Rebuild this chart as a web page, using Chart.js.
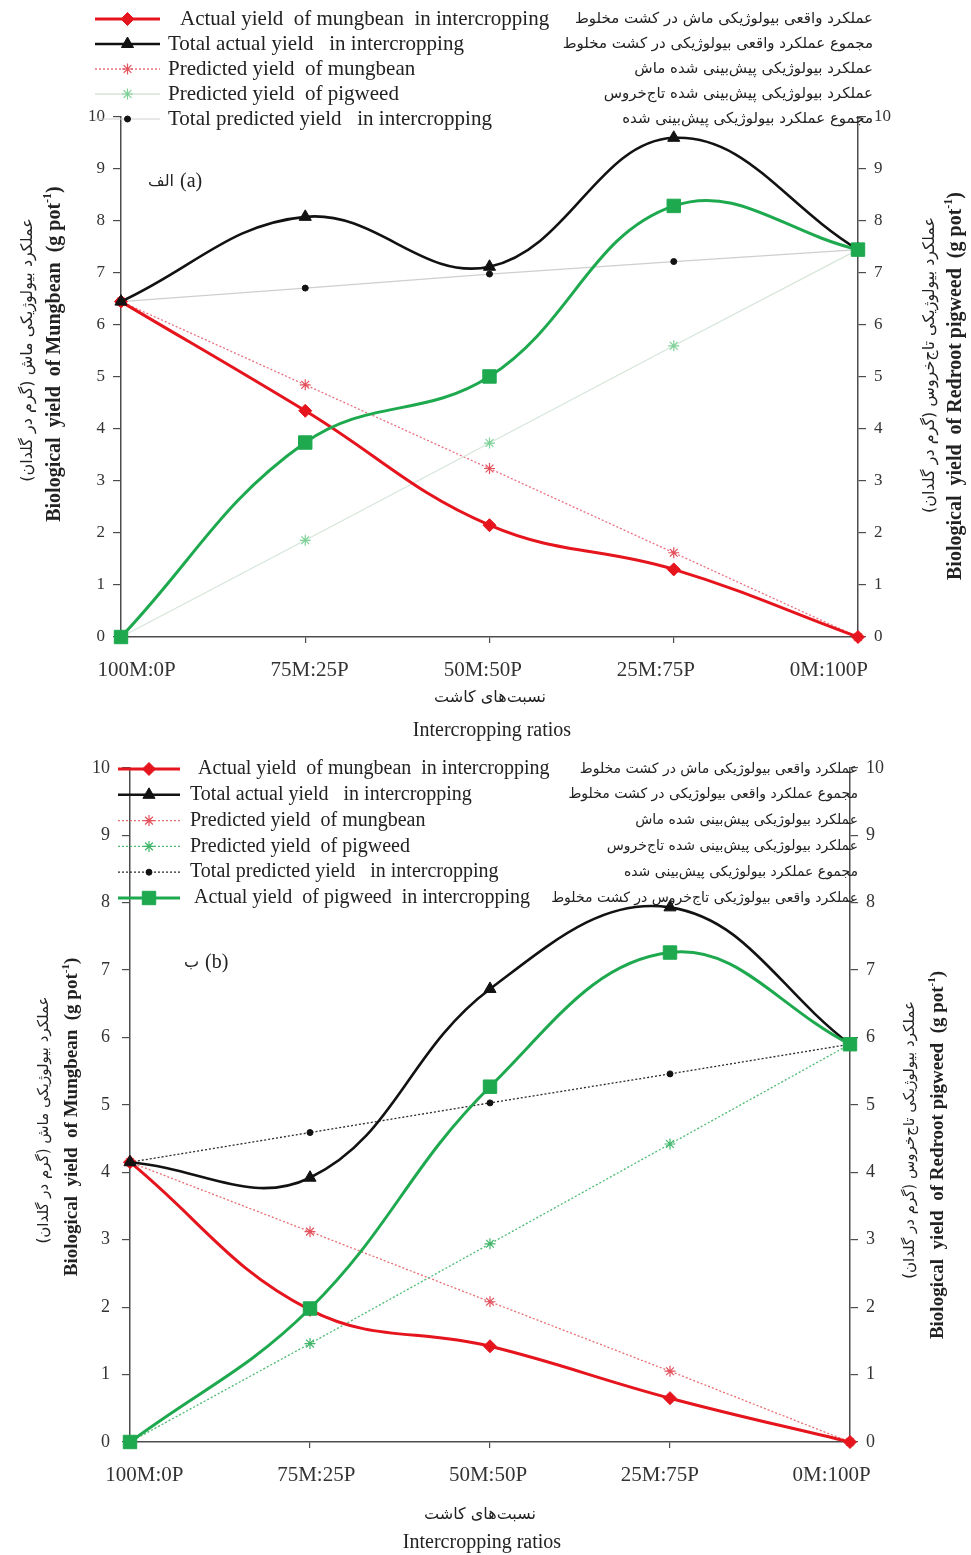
<!DOCTYPE html>
<html>
<head>
<meta charset="utf-8">
<script src="https://cdn.jsdelivr.net/npm/chart.js@4.4.1/dist/chart.umd.min.js"></script>
<style>
  html, body { margin: 0; padding: 0; background: #fff; }
  #wrap { position: relative; width: 971px; height: 1555px; overflow: hidden; }
  canvas { position: absolute; left: 0; }
  #chartA { top: 0; }
  #chartB { top: 745px; }
</style>
</head>
<body>
<div id="wrap">
  <canvas id="chartA" width="971" height="750" style="width:971px;height:750px"></canvas>
  <canvas id="chartB" width="971" height="810" style="width:971px;height:810px"></canvas>
</div>
<script>
// Planting ratios (mungbean : redroot pigweed)
const ratios = ['100M:0P', '75M:25P', '50M:50P', '25M:75P', '0M:100P'];
const yTicks = [0, 1, 2, 3, 4, 5, 6, 7, 8, 9, 10];

// Panel (a) – biological yield, g per pot
const aMungActual  = [6.45, 4.35, 2.15, 1.30, 0];
const aTotalActual = [6.45, 8.08, 7.12, 9.60, 7.45];
const aMungPred    = [6.45, 4.85, 3.24, 1.62, 0];
const aPigPred     = [0, 1.86, 3.73, 5.60, 7.45];
const aTotalPred   = [6.45, 6.71, 6.98, 7.22, 7.45];
const aPigActual   = [0, 3.74, 5.01, 8.29, 7.45];

// Panel (b) – biological yield, g per pot
const bMungActual  = [4.15, 1.96, 1.42, 0.65, 0];
const bTotalActual = [4.15, 3.92, 6.72, 7.93, 5.90];
const bMungPred    = [4.15, 3.12, 2.08, 1.05, 0];
const bPigPred     = [0, 1.46, 2.94, 4.42, 5.90];
const bTotalPred   = [4.15, 4.59, 5.03, 5.46, 5.90];
const bPigActual   = [0, 1.98, 5.27, 7.26, 5.90];

// Legend wording (English / Persian)
const legendEn = [
  'Actual yield  of mungbean  in intercropping',
  'Total actual yield   in intercropping',
  'Predicted yield  of mungbean',
  'Predicted yield  of pigweed',
  'Total predicted yield   in intercropping',
  'Actual yield  of pigweed  in intercropping'
];
const legendFa = [
  'عملکرد واقعی بیولوژیکی ماش در کشت مخلوط',
  'مجموع عملکرد واقعی بیولوژیکی در کشت مخلوط',
  'عملکرد بیولوژیکی پیش‌بینی شده ماش',
  'عملکرد بیولوژیکی پیش‌بینی شده تاج‌خروس',
  'مجموع عملکرد بیولوژیکی پیش‌بینی شده',
  'عملکرد واقعی بیولوژیکی تاج‌خروس در کشت مخلوط'
];

const SERIF = '"Liberation Serif", "Times New Roman", serif';
const FA = '"DejaVu Sans", sans-serif';
const AXIS = '#4d4d4d';
const TEXT = '#222';

// Series appearance
const RED = '#e5141d', BLACK = '#121212', GREEN = '#1ea94f';
function styles(panel) {
  const b = panel === 'b';
  return {
    mungActual:  { line: RED,   width: 3, point: 'rectRot', r: 6.5, fill: RED,   edge: RED,   pw: 1, tension: 0.4, order: 2 },
    totalActual: { line: BLACK, width: 2.6, point: 'triangle', r: 7, fill: BLACK, edge: BLACK, pw: 1, tension: 0.4, order: 1 },
    mungPred:    { line: b ? '#e66f73' : '#ea7080', width: 1.3, dash: [2, 2], point: 'star', r: 5.5, fill: 'rgba(0,0,0,0)', edge: '#e4515c', pw: 1.2, tension: 0, order: 5 },
    pigPred:     { line: b ? '#4dbb74' : '#d6e6da', width: 1.3, dash: b ? [2, 2] : [], point: 'star', r: 5.5, fill: 'rgba(0,0,0,0)', edge: b ? '#3fb56a' : '#7fd198', pw: 1.2, tension: 0, order: 4 },
    totalPred:   { line: b ? '#2a2a2a' : '#cfcfcf', width: b ? 1.3 : 1.2, dash: b ? [2, 2] : [], point: 'circle', r: 3, fill: BLACK, edge: BLACK, pw: 1, tension: 0, order: 3 },
    pigActual:   { line: GREEN, width: 3, point: 'rect', r: 9.5, fill: GREEN, edge: GREEN, pw: 1, tension: 0.4, order: 0 }
  };
}

function series(data, st, axis) {
  return {
    data: data,
    yAxisID: axis,
    borderColor: st.line,
    borderWidth: st.width,
    borderDash: st.dash || [],
    backgroundColor: st.fill,
    pointStyle: st.point,
    pointRadius: st.r,
    pointHoverRadius: st.r,
    pointBackgroundColor: st.fill,
    pointBorderColor: st.edge,
    pointBorderWidth: st.pw,
    tension: st.tension,
    order: st.order,
    fill: false,
    clip: false
  };
}

function drawMarker(ctx, d, x, y) {
  ctx.save();
  ctx.setLineDash([]);
  ctx.fillStyle = d.pointBackgroundColor;
  ctx.strokeStyle = d.pointBorderColor;
  ctx.lineWidth = d.pointBorderWidth;
  Chart.helpers.drawPoint(ctx, { pointStyle: d.pointStyle, radius: d.pointRadius, rotation: 0, borderWidth: d.pointBorderWidth }, x, y);
  ctx.restore();
}

// English title with a superscript "-1", rotated to read bottom-to-top
function drawRotEnglish(ctx, text, x, cy, size) {
  ctx.save();
  ctx.translate(x, cy);
  ctx.rotate(-Math.PI / 2);
  const main = 'bold ' + size + 'px ' + SERIF, sup = 'bold ' + Math.round(size * 0.6) + 'px ' + SERIF;
  ctx.font = main; const w1 = ctx.measureText(text).width; const w3 = ctx.measureText(')').width;
  ctx.font = sup; const w2 = ctx.measureText('-1').width;
  const sx = -(w1 + w2 + w3) / 2;
  ctx.fillStyle = TEXT; ctx.textAlign = 'left'; ctx.textBaseline = 'middle';
  ctx.font = main; ctx.fillText(text, sx, 0);
  ctx.font = sup; ctx.fillText('-1', sx + w1, -size * 0.33);
  ctx.font = main; ctx.fillText(')', sx + w1 + w2, 0);
  ctx.restore();
}
function drawRotPersian(ctx, text, x, cy, size) {
  ctx.save();
  ctx.translate(x, cy);
  ctx.rotate(-Math.PI / 2);
  ctx.direction = 'rtl';
  ctx.font = size + 'px ' + FA; ctx.fillStyle = TEXT; ctx.textAlign = 'center'; ctx.textBaseline = 'middle';
  ctx.fillText(text, 0, 0);
  ctx.restore();
}

// Legend, axis titles and panel tag drawn on top of the plot
const decor = {
  id: 'decor',
  afterDraw(chart, args, o) {
    const ctx = chart.ctx;
    const ds = chart.data.datasets;
    const L = o.legend;
    ctx.save();
    L.rows.forEach((k, i) => {
      const y = L.y0 + i * L.dy;
      const d = ds[k];
      ctx.save();
      ctx.strokeStyle = d.borderColor; ctx.lineWidth = d.borderWidth; ctx.setLineDash(d.borderDash);
      ctx.beginPath(); ctx.moveTo(L.x0, y); ctx.lineTo(L.x1, y); ctx.stroke();
      ctx.restore();
      drawMarker(ctx, d, (L.x0 + L.x1) / 2, y);
      ctx.font = L.enSize + 'px ' + SERIF; ctx.fillStyle = TEXT;
      ctx.textAlign = 'left'; ctx.textBaseline = 'middle'; ctx.direction = 'ltr';
      ctx.fillText(legendEn[k], L.tx + (L.indent[i] || 0), y);
      ctx.font = L.faSize + 'px ' + FA; ctx.direction = 'rtl'; ctx.textAlign = 'right';
      ctx.fillText(legendFa[k], L.faX, y);
      ctx.direction = 'ltr';
    });

    // axis titles
    const T = o.titles;
    drawRotPersian(ctx, 'عملکرد بیولوژیکی ماش (گرم در گلدان)', T.leftFaX, T.leftFaY, T.faSize);
    drawRotEnglish(ctx, 'Biological  yield  of Mungbean  (g pot', T.leftEnX, T.leftEnY, T.enSize);
    drawRotPersian(ctx, 'عملکرد بیولوژیکی تاج‌خروس (گرم در گلدان)', T.rightFaX, T.rightFaY, T.faSize);
    drawRotEnglish(ctx, 'Biological  yield  of Redroot pigweed  (g pot', T.rightEnX, T.rightEnY, T.enSize);

    ctx.fillStyle = TEXT; ctx.textBaseline = 'middle'; ctx.textAlign = 'center';
    ctx.direction = 'rtl'; ctx.font = '16px ' + FA;
    ctx.fillText('نسبت‌های کاشت', T.xFaX, T.xFaY);
    ctx.direction = 'ltr'; ctx.font = '20px ' + SERIF;
    ctx.fillText('Intercropping ratios', T.xEnX, T.xEnY);

    // panel tag
    const P = o.tag;
    ctx.font = '20px ' + SERIF; ctx.textAlign = 'left';
    ctx.fillText(P.en, P.x, P.y);
    ctx.font = '16px ' + FA; ctx.direction = 'rtl'; ctx.textAlign = 'right';
    ctx.fillText(P.fa, P.x - 6, P.y);
    ctx.restore();
  }
};

function makeChart(id, d, geo) {
  const st = styles(geo.panel);
  const datasets = [
    series(d[0], st.mungActual, 'y'),
    series(d[1], st.totalActual, 'y'),
    series(d[2], st.mungPred, 'y'),
    series(d[3], st.pigPred, 'y2'),
    series(d[4], st.totalPred, 'y'),
    series(d[5], st.pigActual, 'y2')
  ];
  const tickFont = { family: SERIF, size: geo.tickSize };
  const yScale = (pos, w, pad) => ({
    type: 'linear', position: pos, min: 0, max: 10,
    afterBuildTicks: s => { s.ticks = yTicks.map(v => ({ value: v })); },
    grid: { display: true, drawOnChartArea: false, drawTicks: true, tickLength: 8, color: AXIS, lineWidth: 1.2 },
    border: { display: true, color: AXIS, width: 1.5 },
    ticks: { font: tickFont, color: '#333', padding: pad },
    afterFit: s => { s.width = w; }
  });
  return new Chart(document.getElementById(id), {
    type: 'line',
    data: { labels: ratios, datasets },
    plugins: [decor],
    options: {
      responsive: false,
      animation: false,
      devicePixelRatio: 1,
      layout: { padding: { top: geo.top, left: 0, right: 0, bottom: 0 } },
      plugins: { legend: { display: false }, tooltip: { enabled: false }, decor: geo.decor },
      scales: {
        x: {
          type: 'category', position: 'bottom', offset: false, weight: 0,
          grid: { display: true, drawOnChartArea: false, drawTicks: true, tickLength: 6, color: AXIS, lineWidth: 1.2 },
          border: { display: true, color: AXIS, width: 1.5 },
          ticks: { display: false },
          afterFit: s => { s.height = 10; }
        },
        xl: {
          type: 'linear', position: 'bottom', weight: 1, min: geo.xlMin, max: geo.xlMax,
          grid: { display: false }, border: { display: false },
          afterBuildTicks: s => { s.ticks = ratios.map((_, i) => ({ value: i })); },
          ticks: { font: { family: SERIF, size: 21 }, color: '#333', padding: 3, maxRotation: 0, autoSkip: false, callback: v => ratios[v] },
          afterFit: s => { s.height = geo.xlHeight; }
        },
        y: yScale('left', geo.leftW, geo.leftPad),
        y2: yScale('right', geo.rightW, 8)
      }
    }
  });
}

makeChart('chartA', [aMungActual, aTotalActual, aMungPred, aPigPred, aTotalPred, aPigActual], {
  panel: 'a', top: 117, leftW: 121, rightW: 113, leftPad: 8, tickSize: 17, xlHeight: 103,
  xlMin: -0.090, xlMax: 4.168,
  decor: {
    legend: { rows: [0, 1, 2, 3, 4], indent: [12, 0, 0, 0, 0], x0: 95, x1: 160, y0: 19, dy: 25, tx: 168, enSize: 21, faX: 873, faSize: 15 },
    titles: { enSize: 20, faSize: 16,
              leftFaX: 28, leftFaY: 350, leftEnX: 55, leftEnY: 354, rightFaX: 930, rightFaY: 365, rightEnX: 956, rightEnY: 386,
              xFaX: 490, xFaY: 698, xEnX: 492, xEnY: 731 },
    tag: { en: '(a)', fa: 'الف', x: 180, y: 182 }
  }
});

makeChart('chartB', [bMungActual, bTotalActual, bMungPred, bPigPred, bTotalPred, bPigActual], {
  panel: 'b', top: 21, leftW: 130, rightW: 121, leftPad: 12, tickSize: 18, xlHeight: 103,
  xlMin: -0.084, xlMax: 4.107,
  decor: {
    legend: { rows: [0, 1, 2, 3, 4, 5], indent: [8, 0, 0, 0, 0, 4], x0: 118, x1: 180, y0: 24, dy: 25.8, tx: 190, enSize: 20, faX: 858, faSize: 14 },
    titles: { enSize: 19, faSize: 15,
              leftFaX: 44, leftFaY: 375, leftEnX: 72, leftEnY: 372, rightFaX: 910, rightFaY: 395, rightEnX: 938, rightEnY: 410,
              xFaX: 480, xFaY: 770, xEnX: 482, xEnY: 798 },
    tag: { en: '(b)', fa: 'ب', x: 205, y: 218 }
  }
});
</script>
</body>
</html>
